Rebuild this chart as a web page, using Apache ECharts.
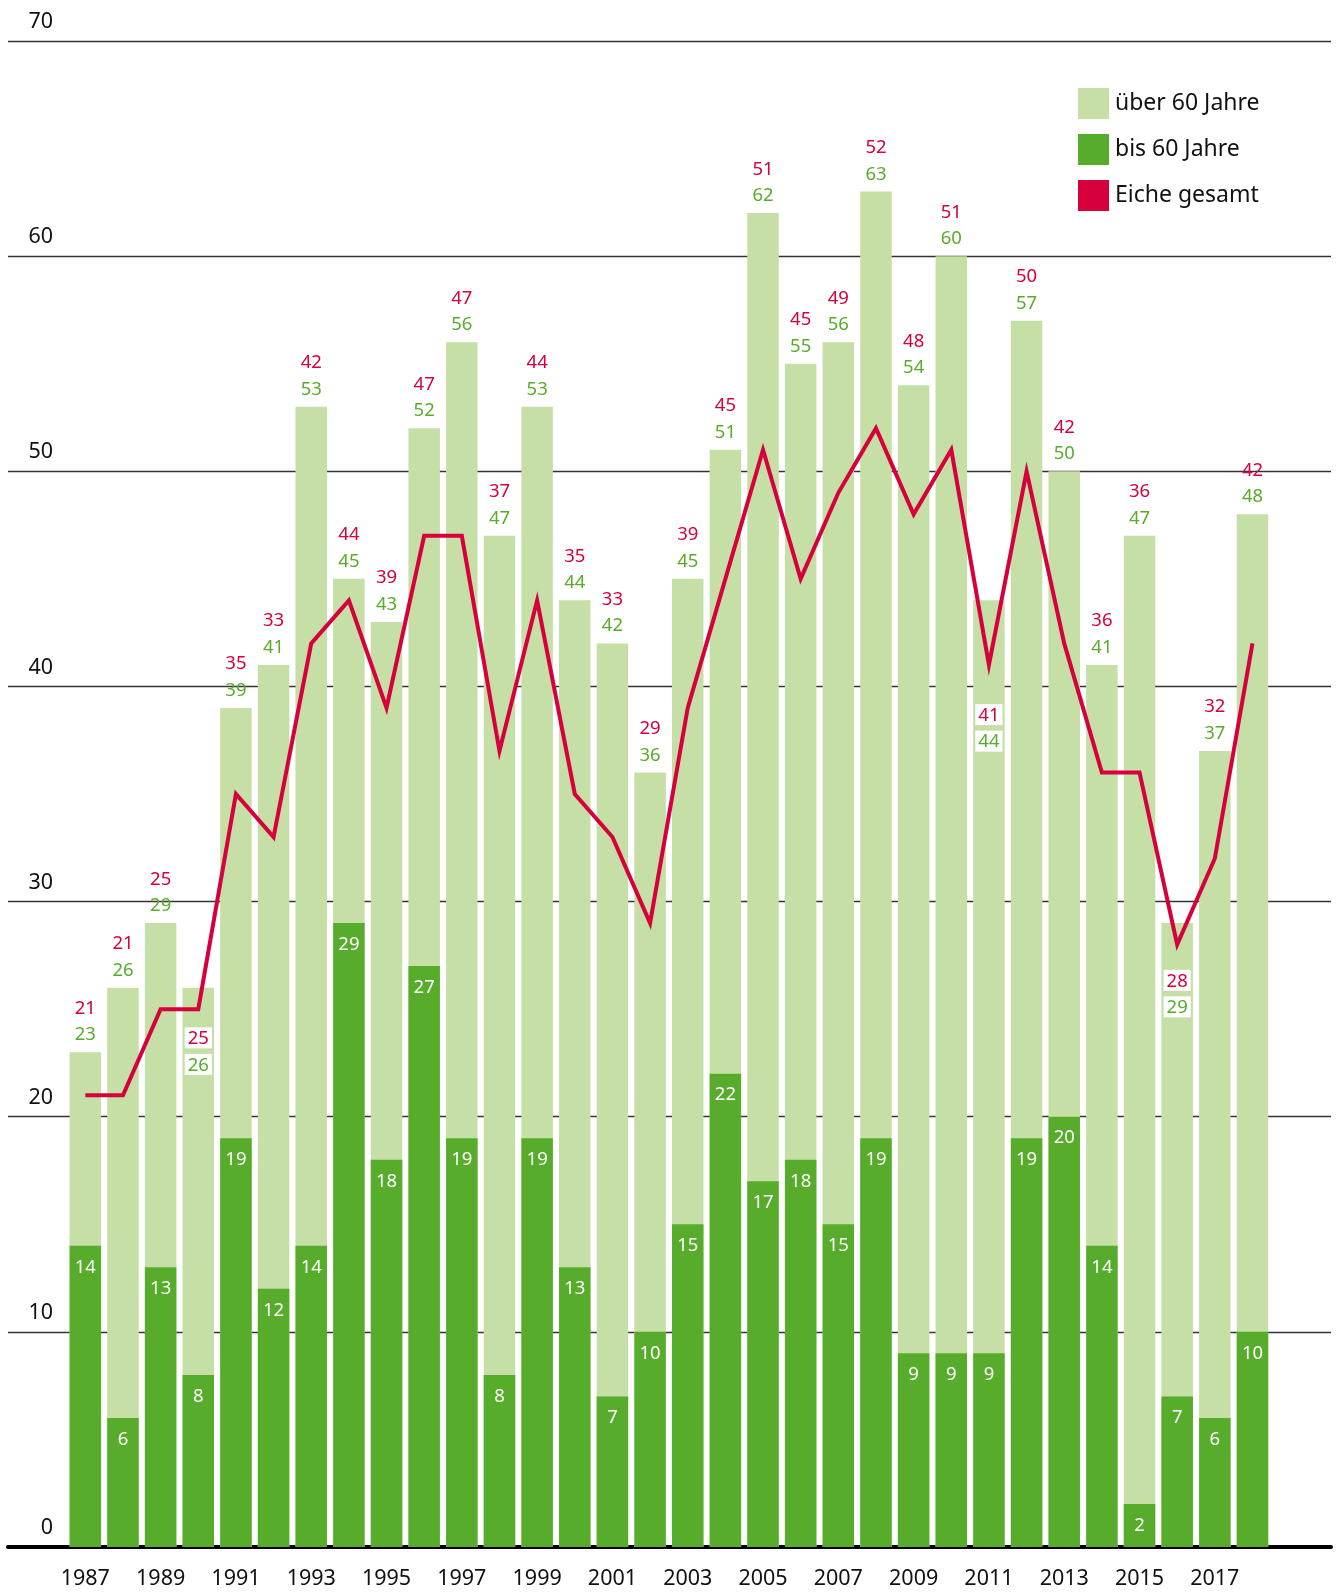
<!DOCTYPE html>
<html>
<head>
<meta charset="utf-8">
<script src="https://cdn.jsdelivr.net/npm/echarts@6/dist/echarts.min.js"></script>
<style>html,body{margin:0;padding:0;background:#fff}#c{width:1338px;height:1593px}</style>
</head>
<body>
<div id="c"></div>
<script>
const years = ['1987','1988','1989','1990','1991','1992','1993','1994','1995','1996','1997','1998','1999','2000','2001','2002','2003','2004','2005','2006','2007','2008','2009','2010','2011','2012','2013','2014','2015','2016','2017','2018'];
const ueber60 = [23,26,29,26,39,41,53,45,43,52,56,47,53,44,42,36,45,51,62,55,56,63,54,60,44,57,50,41,47,29,37,48];
const bis60 = [14,6,13,8,19,12,14,29,18,27,19,8,19,13,7,10,15,22,17,18,15,19,9,9,9,19,20,14,2,7,6,10];
const eicheGesamt = [21,21,25,25,35,33,42,44,39,47,47,37,44,35,33,29,39,45,51,45,49,52,48,51,41,50,42,36,36,28,32,42];
const yTicks = [0,10,20,30,40,50,60,70];

const LIGHT = '#c5dfa6', DARK = '#58ac2c', RED = '#d5003c';
const FONT = '"Noto Sans", "Open Sans", sans-serif';
const LBL = 18.5;

// labels placed inside the bar (below the line) for these years
const insideLabel = { '1990': 37, '2011': 101, '2016': 44 };

const lightData = ueber60.map((v, i) => {
  const y = years[i];
  const txt = '{r|' + eicheGesamt[i] + '}\n{g|' + v + '}';
  if (insideLabel[y] !== undefined) {
    return {
      value: v,
      label: {
        show: true, position: 'insideTop', distance: insideLabel[y],
        formatter: txt,
        rich: {
          r: { color: RED, fontSize: LBL, fontFamily: FONT, backgroundColor: '#fff', padding: [2, 3, 0, 3], lineHeight: 26.5 },
          g: { color: DARK, fontSize: LBL, fontFamily: FONT, backgroundColor: '#fff', padding: [2, 3, 0, 3], lineHeight: 26.5 }
        }
      }
    };
  }
  return { value: v, label: { show: true, position: 'top', distance: 4, formatter: txt } };
});

const chart = echarts.init(document.getElementById('c'), null, { renderer: 'canvas' });
chart.setOption({
  animation: false,
  backgroundColor: '#fff',
  textStyle: { fontFamily: FONT },
  legend: {
    orient: 'vertical', left: 1073, top: 83, itemWidth: 31, itemHeight: 31, itemGap: 15,
    textStyle: { fontSize: 23, color: '#111', fontFamily: FONT, padding: [0, 0, 0, 1] },
    data: [
      { name: 'über 60 Jahre', icon: 'rect' },
      { name: 'bis 60 Jahre', icon: 'rect' },
      { name: 'Eiche gesamt', icon: 'rect' }
    ]
  },
  grid: [
    { left: 8, right: 7, top: 41, bottom: 46 },
    { left: 66.5, right: 66.7, top: 41, bottom: 46 }
  ],
  xAxis: [
    { gridIndex: 0, type: 'value', min: 0, max: 1, show: true,
      axisLine: { show: true, onZero: false, lineStyle: { color: '#000', width: 4 } },
      axisTick: { show: false }, axisLabel: { show: false }, splitLine: { show: false } },
    { gridIndex: 1, type: 'category', data: years, boundaryGap: true,
      axisLine: { show: false }, axisTick: { show: false },
      axisLabel: { interval: 1, margin: 21, fontSize: 21.5, color: '#111', fontFamily: FONT } }
  ],
  yAxis: [
    { gridIndex: 0, type: 'value', min: 0, max: 70, interval: 10,
      axisLine: { show: false }, axisTick: { show: false },
      axisLabel: { margin: -45, fontSize: 21.5, color: '#111', fontFamily: FONT, verticalAlign: 'bottom', padding: [0, 0, 8, 0],
        formatter: v => yTicks.includes(v) ? String(v) : '' },
      splitLine: { show: true, lineStyle: { color: '#333', width: 1.3 } } },
    { gridIndex: 1, type: 'value', min: 0, max: 70, interval: 10, show: false, splitLine: { show: false } }
  ],
  series: [
    {
      name: 'über 60 Jahre', type: 'bar', xAxisIndex: 1, yAxisIndex: 1,
      data: lightData, barWidth: 31.5, barGap: '-100%', z: 2,
      itemStyle: { color: LIGHT },
      label: {
        show: true, position: 'top',
        rich: {
          r: { color: RED, fontSize: LBL, fontFamily: FONT, lineHeight: 26.5 },
          g: { color: DARK, fontSize: LBL, fontFamily: FONT, lineHeight: 26.5 }
        }
      }
    },
    {
      name: 'bis 60 Jahre', type: 'bar', xAxisIndex: 1, yAxisIndex: 1,
      data: bis60, barWidth: 31.5, barGap: '-100%', z: 3,
      itemStyle: { color: DARK },
      label: { show: true, position: 'insideTop', distance: 12, color: '#fff', fontSize: LBL, fontFamily: FONT }
    },
    {
      name: 'Eiche gesamt', type: 'line', xAxisIndex: 1, yAxisIndex: 1,
      data: eicheGesamt, z: 4, symbol: 'none', showSymbol: false,
      itemStyle: { color: RED },
      lineStyle: { color: RED, width: 4, join: 'miter', miterLimit: 20 }
    }
  ]
});
</script>
</body>
</html>
